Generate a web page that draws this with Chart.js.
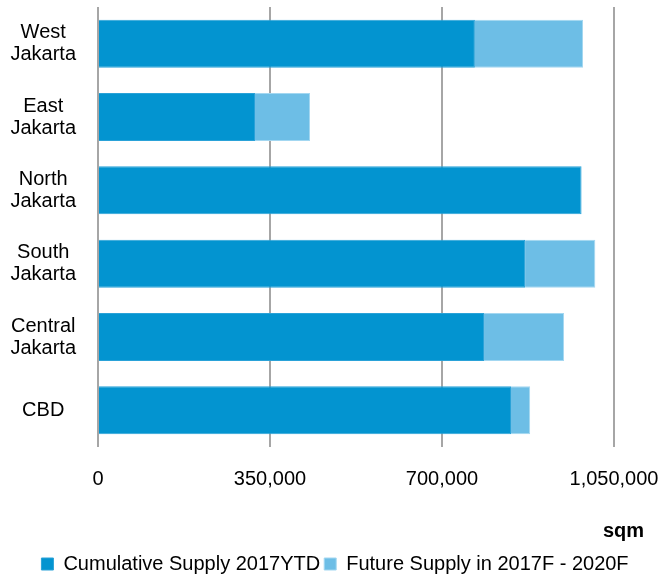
<!DOCTYPE html>
<html lang="en">
<head>
  <meta charset="UTF-8">
  <title>Office supply by area</title>
  <style>
    html, body { margin: 0; padding: 0; background: #fff; }
    #wrap { width: 660px; height: 577px; }
  </style>
</head>
<body>
  <div id="wrap">
    <canvas id="supplyChart"></canvas>
  </div>

  <script src="https://cdn.jsdelivr.net/npm/chart.js"></script>
  <script>
    // data (sqm)
    const areas = [
      ['West', 'Jakarta'],
      ['East', 'Jakarta'],
      ['North', 'Jakarta'],
      ['South', 'Jakarta'],
      ['Central', 'Jakarta'],
      'CBD'
    ];
    const cumulativeSupply = [767000, 319500, 984000, 869000, 785500, 840400];
    const futureSupply = [220000, 112000, 0, 143000, 163000, 39000];
    const xTicks = [0, 350000, 700000, 1050000];
    const unitLabel = 'sqm';

    const fontFamily = "'Liberation Sans', Arial, sans-serif";

    // draws the unit label under the x axis, right aligned
    const unitPlugin = {
      id: 'unitLabel',
      afterDraw(chart) {
        const ctx = chart.ctx;
        const x = chart.scales.x;
        ctx.save();
        ctx.font = 'bold 20px ' + fontFamily;
        ctx.fillStyle = '#000';
        ctx.textAlign = 'right';
        ctx.textBaseline = 'alphabetic';
        ctx.fillText(unitLabel, chart.width - 16, x.bottom - 13);
        ctx.restore();
      }
    };

    const config = {
      type: 'bar',
      data: {
        labels: areas,
        datasets: [{
          label: 'Cumulative Supply 2017YTD',
          data: cumulativeSupply,
          backgroundColor: '#0394d0',
          borderColor: '#2aa2d8',
          borderWidth: 1,
          barPercentage: 0.655,
          categoryPercentage: 1
        }, {
          label: 'Future Supply in 2017F - 2020F',
          data: futureSupply,
          backgroundColor: '#6dbee6',
          borderColor: '#a3d7f1',
          borderWidth: 1,
          barPercentage: 0.655,
          categoryPercentage: 1
        }]
      },
      options: {
        indexAxis: 'y',
        responsive: true,
        maintainAspectRatio: false,
        animation: false,
        layout: {
          padding: { top: 7, left: 10, right: 0, bottom: -7 }
        },
        plugins: {
          legend: {
            position: 'bottom',
            labels: {
              boxWidth: 12,
              boxHeight: 12,
              padding: 4,
              color: '#000',
              font: { family: fontFamily, size: 20, lineHeight: 1.0 }
            }
          },
          tooltip: { enabled: false }
        },
        scales: {
          x: {
            stacked: true,
            min: 0,
            max: 1050000,
            afterBuildTicks: function(scale) {
              scale.ticks = xTicks.map(v => ({ value: v }));
            },
            afterFit: function(scale) {
              scale.height += 39;
              scale.paddingLeft = 0;
              scale.paddingRight = 46;
            },
            grid: {
              color: '#a6a6a6',
              lineWidth: 2,
              drawTicks: false
            },
            border: { display: false },
            ticks: {
              padding: 20,
              color: '#000',
              maxRotation: 0,
              font: { family: fontFamily, size: 20 },
              callback: function(value) {
                return value.toLocaleString('en-US');
              }
            }
          },
          y: {
            stacked: true,
            afterFit: function(scale) {
              scale.width = 88;
              scale.paddingTop = 0;
              scale.paddingBottom = 0;
            },
            grid: { display: false, drawTicks: false },
            border: { display: false },
            ticks: {
              crossAlign: 'center',
              padding: 22,
              color: '#000',
              font: { family: fontFamily, size: 20, lineHeight: 1.1 }
            }
          }
        }
      },
      plugins: [unitPlugin]
    };

    new Chart(document.getElementById('supplyChart'), config);
  </script>
</body>
</html>
